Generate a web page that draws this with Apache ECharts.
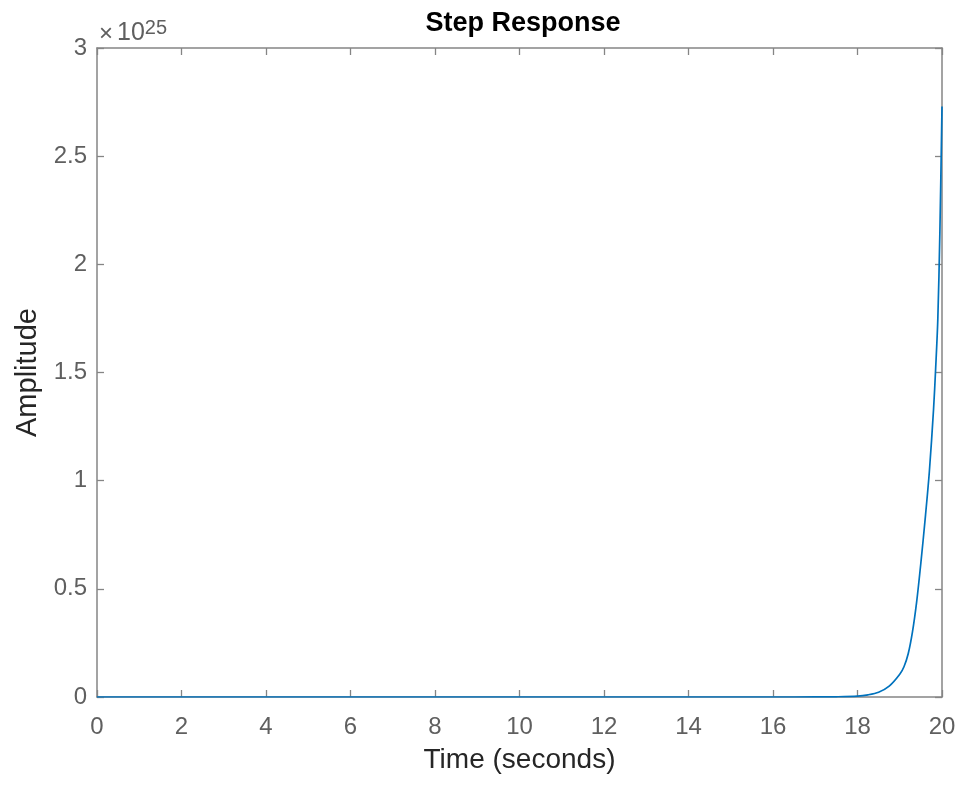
<!DOCTYPE html>
<html>
<head>
<meta charset="utf-8">
<script src="https://cdn.jsdelivr.net/npm/echarts@6/dist/echarts.min.js"></script>
<style>
html,body{margin:0;padding:0;background:#fff;}
#chart{width:963px;height:787px;}
</style>
</head>
<body>
<div id="chart"></div>
<script>
// Time samples (seconds) and step response amplitude (in units of 1e25)
var timeSeconds = [0, 2, 4, 6, 8, 10, 12, 14, 16, 17, 17.5, 18, 18.25, 18.5, 18.75, 19, 19.1, 19.2, 19.3, 19.4, 19.5, 19.6, 19.7, 19.8, 19.85, 19.9, 19.95, 20];
var amplitudeE25 = [0, 0, 0, 0, 0, 0, 0, 0, 0, 0.0002, 0.001, 0.004, 0.010, 0.022, 0.050, 0.105, 0.14, 0.20, 0.30, 0.44, 0.62, 0.82, 1.04, 1.33, 1.52, 1.74, 2.15, 2.73];
var xTickValues = [0, 2, 4, 6, 8, 10, 12, 14, 16, 18, 20];
var yTickValues = [0, 0.5, 1, 1.5, 2, 2.5, 3];
var titleText = 'Step Response';
var xAxisTitle = 'Time (seconds)';
var yAxisTitle = 'Amplitude';
var exponentLabel = '25';

var points = timeSeconds.map(function (t, i) { return [t, amplitudeE25[i]]; });

var axisColor = '#858585';
var labelColor = '#5f5f5f';
var fontFam = '"Liberation Sans", Arial, sans-serif';

var chart = echarts.init(document.getElementById('chart'));
var frameAxis = {
  type: 'value',
  axisLine: { show: true, onZero: false, lineStyle: { color: axisColor, width: 1.5 } },
  splitLine: { show: false }
};
chart.setOption({
  animation: false,
  backgroundColor: '#ffffff',
  title: {
    text: titleText,
    left: 518, top: 5, textAlign: 'center',
    textStyle: { fontFamily: fontFam, fontSize: 27, fontWeight: 'bold', color: '#000' }
  },
  grid: { left: 97, right: 21, top: 48, bottom: 90, containLabel: false },
  xAxis: [
    Object.assign({}, frameAxis, {
      position: 'bottom', min: 0, max: 20,
      name: xAxisTitle, nameLocation: 'middle', nameGap: 49,
      nameTextStyle: { fontFamily: fontFam, fontSize: 28, color: '#262626' },
      axisTick: { show: true, inside: true, length: 7, customValues: xTickValues, lineStyle: { color: axisColor, width: 1.3 } },
      axisLabel: { show: true, customValues: xTickValues, margin: 18, fontFamily: fontFam, fontSize: 24, color: labelColor }
    }),
    Object.assign({}, frameAxis, {
      position: 'top', min: 0, max: 20,
      axisTick: { show: true, inside: true, length: 7, customValues: xTickValues, lineStyle: { color: axisColor, width: 1.3 } },
      axisLabel: { show: false }
    })
  ],
  yAxis: [
    Object.assign({}, frameAxis, {
      position: 'left', min: 0, max: 3,
      name: yAxisTitle, nameLocation: 'middle', nameGap: 52,
      nameTextStyle: { fontFamily: fontFam, fontSize: 29, color: '#262626' },
      axisTick: { show: true, inside: true, length: 7, customValues: yTickValues, lineStyle: { color: axisColor, width: 1.3 } },
      axisLabel: { show: true, customValues: yTickValues, margin: 10, fontFamily: fontFam, fontSize: 24, color: labelColor }
    }),
    Object.assign({}, frameAxis, {
      position: 'right', min: 0, max: 3,
      axisTick: { show: true, inside: true, length: 7, customValues: yTickValues, lineStyle: { color: axisColor, width: 1.3 } },
      axisLabel: { show: false }
    })
  ],
  graphic: [{
    type: 'text',
    left: 99, top: 18,
    style: {
      text: '{m|×}{x|10}{e|' + exponentLabel + '}',
      rich: {
        m: { fontFamily: fontFam, fontSize: 24, fill: labelColor, verticalAlign: 'bottom', lineHeight: 28, padding: [0, 4, 0, 0] },
        x: { fontFamily: fontFam, fontSize: 25, fill: labelColor, verticalAlign: 'bottom', lineHeight: 28 },
        e: { fontFamily: fontFam, fontSize: 20, fill: labelColor, verticalAlign: 'top', lineHeight: 28, padding: [0, 0, 10, 0] }
      }
    }
  }],
  series: [{
    type: 'line',
    data: points,
    xAxisIndex: 0, yAxisIndex: 0,
    showSymbol: false,
    smooth: 0.3,
    lineStyle: { color: '#0072BD', width: 1.7 },
    clip: true
  }]
});
</script>
</body>
</html>
